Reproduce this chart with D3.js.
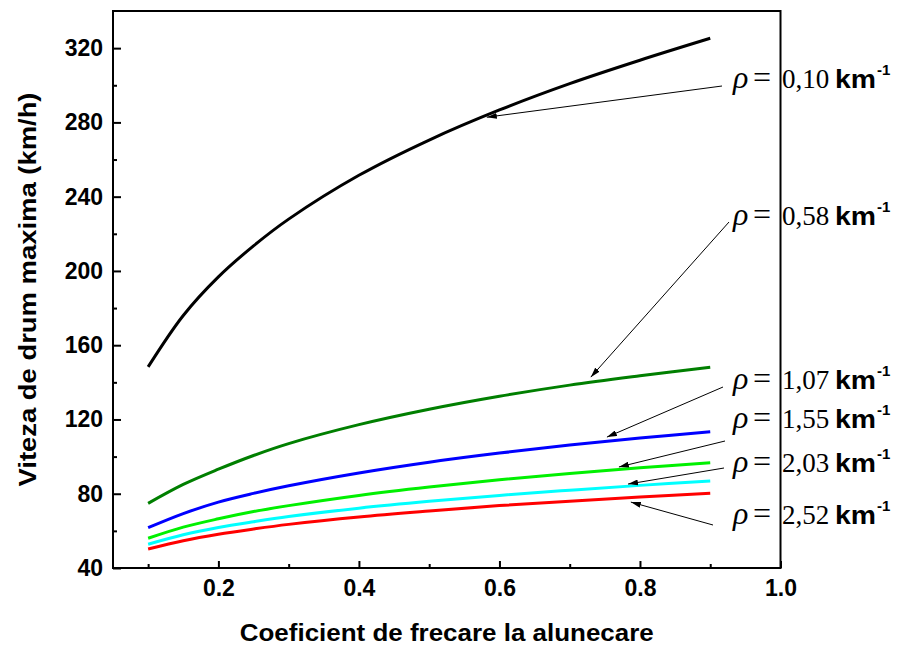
<!DOCTYPE html>
<html>
<head>
<meta charset="utf-8">
<script src="https://cdn.jsdelivr.net/npm/d3@7"></script>
<style>
  html, body { margin: 0; padding: 0; background: #fff; }
  svg { display: block; }
</style>
</head>
<body>
<svg id="chart" width="904" height="648"></svg>
<script>
// ---- data ----
const mu = [0.1, 0.15, 0.2, 0.25, 0.3, 0.4, 0.5, 0.6, 0.7, 0.8, 0.9];
const rhoLabels = ["0,10", "0,58", "1,07", "1,55", "2,03", "2,52"];
const v010 = [148.3, 176.0, 196.8, 213.5, 227.9, 251.5, 270.5, 286.7, 300.9, 313.5, 325.3];
const v058 = [74.8, 85.0, 93.2, 100.6, 107.0, 117.2, 125.5, 132.5, 138.5, 143.5, 148.1];
const v107 = [61.7, 69.3, 75.5, 80.2, 84.3, 91.2, 97.0, 101.9, 106.2, 110.0, 113.4];
const v155 = [56.0, 62.0, 66.5, 70.4, 73.6, 79.1, 83.6, 87.5, 90.9, 94.0, 96.7];
const v203 = [52.8, 57.9, 61.8, 64.9, 67.7, 72.2, 75.9, 79.1, 81.9, 84.5, 86.8];
const v252 = [50.2, 54.7, 58.2, 61.0, 63.5, 67.5, 70.7, 73.6, 76.0, 78.2, 80.2];
const seriesValues = [v010, v058, v107, v155, v203, v252];
// arrow targets (data coordinates) for each label
const arrowMu = [0.582, 0.730, 0.753, 0.770, 0.783, 0.787];
const arrowV  = [282.8, 142.8, 110.5, 94.4, 85.2, 75.5];
const xTicks = [0.2, 0.4, 0.6, 0.8, 1.0];
const xMinor = [0.1, 0.3, 0.5, 0.7, 0.9];
const yTicks = [40, 80, 120, 160, 200, 240, 280, 320];
const yMinor = [60, 100, 140, 180, 220, 260, 300];
const xTitle = "Coeficient de frecare la alunecare";
const yTitle = "Viteza de drum maxima (km/h)";

// ---- styles / layout ----
const colors = ["#000000", "#007f00", "#0000ff", "#00f000", "#00ffff", "#ff0000"];
const pL = 113, pR = 780.5, pT = 11, pB = 568;
const labelBase = [88, 225, 389, 428, 472, 524];
const arrowStart = [[722, 86], [729, 222], [723, 387], [725, 441], [724, 468], [713, 525]];

const svg = d3.select("#chart");
const x = d3.scaleLinear().domain([0.05, 1.0]).range([pL, pR]);
const y = d3.scaleLinear().domain([40, 340]).range([pB, pT]);

const sans = "'Liberation Sans', Arial, sans-serif";
const serif = "'Liberation Serif', 'Times New Roman', serif";

// defs: arrowhead
svg.append("defs").append("marker")
  .attr("id", "ah").attr("viewBox", "0 0 10 6")
  .attr("refX", 10).attr("refY", 3)
  .attr("markerWidth", 10).attr("markerHeight", 6)
  .attr("markerUnits", "userSpaceOnUse")
  .attr("orient", "auto")
  .append("path").attr("d", "M0,0 L10,3 L0,6 Z").attr("fill", "#000");

// curves
const line = d3.line()
  .x((d, i) => x(mu[i]))
  .y(d => y(d))
  .curve(d3.curveCatmullRom.alpha(0.5));

seriesValues.forEach((vals, k) => {
  svg.append("path")
    .datum(vals)
    .attr("d", line)
    .attr("fill", "none")
    .attr("stroke", colors[k])
    .attr("stroke-width", 3)
    .attr("stroke-linejoin", "round");
});

// axes
const gx = svg.append("g").attr("transform", `translate(0,${pB})`)
  .call(d3.axisBottom(x).tickValues(xTicks).tickSize(-7).tickPadding(12)
        .tickFormat(d3.format(".1f")));
const gxm = svg.append("g").attr("transform", `translate(0,${pB})`)
  .call(d3.axisBottom(x).tickValues(xMinor).tickSize(-4).tickFormat(""));
const gy = svg.append("g").attr("transform", `translate(${pL},0)`)
  .call(d3.axisLeft(y).tickValues(yTicks).tickSize(-8).tickPadding(10));
const gym = svg.append("g").attr("transform", `translate(${pL},0)`)
  .call(d3.axisLeft(y).tickValues(yMinor).tickSize(-4).tickFormat(""));

[gx, gxm, gy, gym].forEach(g => {
  g.select(".domain").remove();
  g.selectAll(".tick line").attr("stroke", "#000").attr("stroke-width", 2);
  g.selectAll(".tick text")
    .attr("fill", "#000")
    .style("font-family", sans)
    .style("font-weight", "bold")
    .style("font-size", "23px");
});

// frame
svg.append("rect")
  .attr("x", pL).attr("y", pT)
  .attr("width", pR - pL).attr("height", pB - pT)
  .attr("fill", "none").attr("stroke", "#000").attr("stroke-width", 2);

// axis titles
svg.append("text")
  .attr("x", (pL + pR) / 2).attr("y", 641)
  .attr("text-anchor", "middle")
  .attr("textLength", 414).attr("lengthAdjust", "spacingAndGlyphs")
  .style("font-family", sans).style("font-weight", "bold").style("font-size", "23px")
  .text(xTitle);

svg.append("text")
  .attr("transform", `translate(36,${(pT + pB) / 2}) rotate(-90)`)
  .attr("text-anchor", "middle")
  .attr("textLength", 394).attr("lengthAdjust", "spacingAndGlyphs")
  .style("font-family", sans).style("font-weight", "bold").style("font-size", "23px")
  .text(yTitle);

// annotations
rhoLabels.forEach((lab, k) => {
  const by = labelBase[k];
  svg.append("line")
    .attr("x1", arrowStart[k][0]).attr("y1", arrowStart[k][1])
    .attr("x2", x(arrowMu[k])).attr("y2", y(arrowV[k]))
    .attr("stroke", "#000").attr("stroke-width", 1)
    .attr("marker-end", "url(#ah)");

  const t = svg.append("g");
  t.append("text").attr("x", 733).attr("y", by)
    .style("font-family", serif).style("font-style", "italic").style("font-size", "32px")
    .text("ρ");
  t.append("text").attr("x", 753).attr("y", by)
    .style("font-family", serif).style("font-size", "32px")
    .text("=");
  t.append("text").attr("x", 782).attr("y", by)
    .style("font-family", serif).style("font-size", "27px")
    .text(lab);
  t.append("text").attr("x", 835).attr("y", by)
    .attr("textLength", 41).attr("lengthAdjust", "spacingAndGlyphs")
    .style("font-family", sans).style("font-weight", "bold").style("font-size", "25px")
    .text("km");
  t.append("text").attr("x", 877).attr("y", by - 13)
    .style("font-family", sans).style("font-weight", "bold").style("font-size", "15px")
    .text("-1");
});
</script>
</body>
</html>
